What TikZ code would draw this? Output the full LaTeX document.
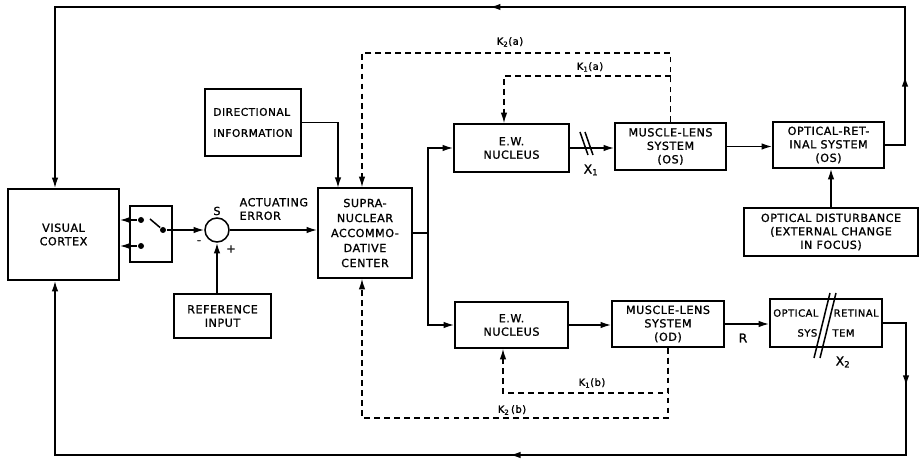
\documentclass[tikz,border=0pt]{standalone}
\usepackage{fontspec}
\setmainfont{DejaVu Sans}[LetterSpace=5,FakeBold=1.2]
\usepackage{tikz}
\usetikzlibrary{arrows.meta,calc,decorations.markings,positioning}

\tikzset{
  blk/.style 2 args={draw, minimum width=#1*0.03cm, minimum height=#2*0.03cm, inner sep=1pt, align=center},
  dot/.style={circle, fill, inner sep=0pt, minimum size=0.18cm},
  fb/.style={dash pattern=on 5pt off 3.5pt, line width=1.1pt},
  arrowat/.style={postaction={decorate,decoration={markings,mark=at position #1 with {\arrow{Latex[length=9pt,width=5.5pt]}}}}},
  lbl/.style={font=\fontsize{8.5}{10}\selectfont, inner sep=1pt}
}

\begin{document}
\begin{tikzpicture}[x=0.03cm,y=-0.03cm,line width=1.3pt,>={Latex[length=9pt,width=5.5pt]},font=\fontsize{9.5}{11.5}\selectfont]
  \useasboundingbox (0,0) rectangle (921,460);
  % left part
  \node[blk={111}{91}] (vc) at (63.5,234.5) {VISUAL\\CORTEX};
  \node[blk={42}{56}] (sw) at (151,234) {};
  \node[dot] (c1) at (141,220) {};
  \node[dot] (c2) at (141,246) {};
  \node[dot] (piv) at (163,230) {};
  \coordinate (blade) at (150,219);
  \node[circle,draw,minimum size=0.72cm,inner sep=0pt] (sum) at (217,230) {};
  \node (sgn) at (217,211) {S};
  \node (minus) at (199,242) {-};
  \node (plus) at (231,249) {+};
  \node[blk={97}{44}] (ref) at (222.5,316) {REFERENCE\\INPUT};
  \node[anchor=west,align=left] (aerr) at (235,209) {ACTUATING\\ERROR};
  \node[blk={96}{67},align=left,font=\fontsize{9}{18}\selectfont] (dir) at (253,122.5) {DIRECTIONAL\\INFORMATION};
  \node[blk={94}{90},font=\fontsize{9.5}{12.8}\selectfont] (sup) at (365,233) {SUPRA-\\NUCLEAR\\ACCOMMO-\\DATIVE\\CENTER};
  % upper branch (OS)
  \node[blk={115}{48}] (ewa) at (511.5,148) {E.W.\\NUCLEUS};
  \node[blk={111}{47}] (mla) at (670.5,146.5) {MUSCLE-LENS\\SYSTEM\\(OS)};
  \node[blk={111}{46}] (ora) at (828.5,145) {OPTICAL-RET-\\INAL SYSTEM\\(OS)};
  \node[blk={174}{48}] (od) at (831,232) {OPTICAL DISTURBANCE\\(EXTERNAL CHANGE\\IN FOCUS)};
  % lower branch (OD)
  \node[blk={113}{46}] (ewb) at (511.5,325) {E.W.\\NUCLEUS};
  \node[blk={112}{46}] (mlb) at (668,324) {MUSCLE-LENS\\SYSTEM\\(OD)};
  \node[blk={112}{48},font=\fontsize{8.5}{17}\selectfont] (orb) at (826,323) {OPTICAL\hspace{13pt}RETINAL\\SYS\hspace{13pt}TEM};
  % labels
  \node[lbl] (k2a) at (510,42) {K\textsubscript{2}(a)};
  \node[lbl] (k1a) at (590,67) {K\textsubscript{1}(a)};
  \node[lbl] (k1b) at (592,383) {K\textsubscript{1}(b)};
  \node[lbl] (k2b) at (512,410) {K\textsubscript{2}\,(b)};
  \node[font=\fontsize{10.5}{12}\selectfont] (x1) at (591,170) {X\textsubscript{1}};
  \node[font=\fontsize{10.5}{12}\selectfont] (x2) at (843,362) {X\textsubscript{2}};
  \node[font=\fontsize{10.5}{12}\selectfont] (rr) at (743,338) {R};
  % corners
  \coordinate (split) at (428,233);
  \coordinate (dirin) at (338,188);
  \coordinate (tr) at (905,7);
  \coordinate (tl) at (55,7);
  \coordinate (br) at (906,455);
  \coordinate (bl) at (55,455);
  \coordinate (ka2) at (362,53);
  \coordinate (ka1) at (504,76);
  \coordinate (kb1) at (503,393);
  \coordinate (kb2) at (362,418);
  % switch and summing point
  \draw (piv) -- (blade);
  \draw[->] (c1) -- (c1 -| vc.east);
  \draw[->] (c2) -- (c2 -| vc.east);
  \draw[->] (piv) -- (sum.west);
  \draw[->] (sum |- ref.north) -- (sum.south);
  \draw[->] (sum.east) -- (sum.east -| sup.west);
  \draw[->] (dir.east) -| (dirin);
  % forward paths
  \draw (sup.east) -- (split);
  \draw[->] (split) |- (ewa.west);
  \draw[->] (split) |- (ewb.west);
  \draw[->] (ewa.east) -- (ewa.east -| mla.west);
  \draw[->] (mla.east) -- (mla.east -| ora.west);
  \draw[->] (od.north) -- (od.north |- ora.south);
  \draw[->] (ewb.east) -- (ewb.east -| mlb.west);
  \draw[->] (mlb.east) -- (mlb.east -| orb.west);
  % outer loops
  \draw[->,arrowat=0.075,arrowat=0.482] (ora.east) -| (tr) -- (tl) -- (tl |- vc.north);
  \draw[->,arrowat=0.073,arrowat=0.467] (orb.east) -| (br) -- (bl) -- (bl |- vc.south);
  % dashed feedback
  \draw[fb,->] (mla.north) |- (ka2) -- (ka2 |- sup.north);
  \draw[fb,->] (mla.north |- ka1) -- (ka1) -- (ka1 |- ewa.north);
  \draw[fb,->] (mlb.south) |- (kb1) -- (kb1 |- ewb.south);
  \draw[fb,->] (mlb.south) |- (kb2) -- (kb2 |- sup.south);
  % break marks
  \draw (580,132) -- (588,155) (585,132) -- (593,155);
  \draw (814,358) -- (830,293) (820,358) -- (836,293);
\end{tikzpicture}
\end{document}
